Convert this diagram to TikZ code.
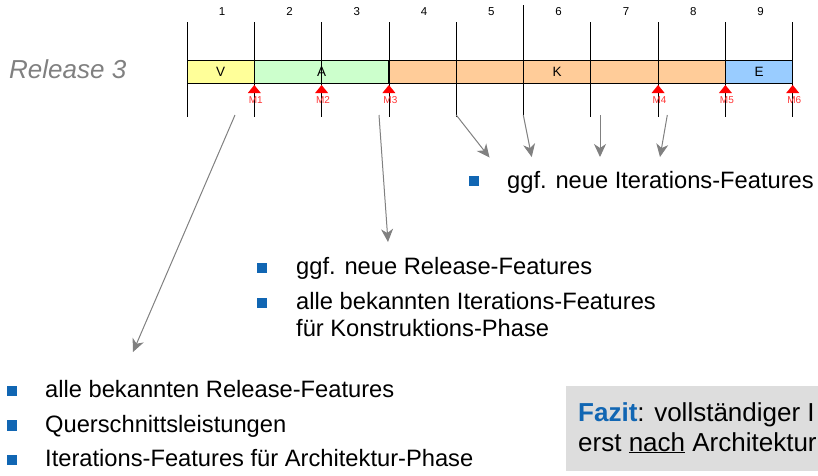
\documentclass[tikz,border=0pt]{standalone}
\usepackage{fontspec}
\setmainfont{Liberation Sans}
\usetikzlibrary{arrows.meta}
\definecolor{vfill}{HTML}{FFFF99}
\definecolor{afill}{HTML}{CCFFCC}
\definecolor{kfill}{HTML}{FFCC99}
\definecolor{efill}{HTML}{99CCFF}
\definecolor{bulletblue}{HTML}{1166B3}
\definecolor{arrowgrey}{HTML}{808080}
\definecolor{boxgrey}{HTML}{DDDDDD}
\definecolor{msred}{HTML}{FF0000}
\definecolor{mstext}{HTML}{FF3333}
\definecolor{relgrey}{HTML}{808080}
\begin{document}
\begin{tikzpicture}[x=1pt,y=-1pt,
  phasebox/.style={draw=black, line width=0.9pt},
  gridline/.style={draw=black, line width=0.8pt},
  itnum/.style={font=\fontsize{11.5}{13}\selectfont, anchor=base, inner sep=0pt},
  phaselabel/.style={font=\fontsize{13.5}{15}\selectfont, anchor=base, inner sep=0pt},
  msmark/.style={fill=msred},
  mslabel/.style={text=mstext, font=\fontsize{10}{11}\selectfont, anchor=base, inner sep=0pt},
  bullet/.style={fill=bulletblue, minimum size=10.5pt, inner sep=0pt},
  itemtext/.style={anchor=base west, inner sep=0pt, font=\fontsize{23.7}{27}\selectfont},
  fazittext/.style={anchor=base west, inner sep=0pt, font=\fontsize{26}{30}\selectfont},
  feedarrow/.style={draw=arrowgrey, line width=1pt, -{Stealth[length=13pt, width=12pt, inset=4pt]}}
]
\useasboundingbox (0,0) rectangle (818,475);
\clip (0,0) rectangle (818,475);

% release label
\node[anchor=base west, inner sep=0pt, text=relgrey, font=\fontsize{26}{30}\selectfont\itshape]
  (rel) at (9,78) {Release 3};

% phase bar
\filldraw[phasebox, fill=vfill] (187,60) rectangle (254.3,83);
\filldraw[phasebox, fill=afill] (254.3,60) rectangle (388.9,83);
\filldraw[phasebox, fill=kfill] (388.9,60) rectangle (725.4,83);
\filldraw[phasebox, fill=efill] (725.4,60) rectangle (792.7,83);
\node[phaselabel] (pV) at (220.6,76) {V};
\node[phaselabel] (pA) at (321.6,76) {A};
\node[phaselabel] (pK) at (557,76) {K};
\node[phaselabel] (pE) at (759,76) {E};

% iteration grid and numbers
\foreach \i in {0,...,9}{
  \pgfmathsetmacro{\gx}{187+67.3*\i}
  \ifnum\i=5
    \draw[gridline] (\gx,5) -- (\gx,115);
  \else
    \draw[gridline] (\gx,22) -- (\gx,117);
  \fi
}
\foreach \i in {1,...,9}{
  \pgfmathsetmacro{\nx}{187+67.3*\i-33.65+1.5}
  \node[itnum] (it\i) at (\nx,15) {\i};
}

% milestones
\foreach \k/\i in {1/1,2/2,3/3,4/7,5/8,6/9}{
  \pgfmathsetmacro{\mx}{187+67.3*\i}
  \fill[msmark] (\mx,85) -- (\mx+6.5,93) -- (\mx-6.5,93) -- cycle;
  \node[mslabel] (m\k) at (\mx+1.5,103) {M\k};
}

% arrow end points
\coordinate (s1) at (235,115);   \coordinate (t1) at (133,352);
\coordinate (s2) at (379,115);   \coordinate (t2) at (388,242);
\coordinate (s3) at (456.2,115); \coordinate (t3) at (489.5,157.5);
\coordinate (s4) at (523.3,115); \coordinate (t4) at (531.7,157);
\coordinate (s5) at (600,115);   \coordinate (t5) at (600,157);
\coordinate (s6) at (667.3,115); \coordinate (t6) at (660,157);
\foreach \j in {1,...,6}{ \draw[feedarrow] (s\j) -- (t\j); }

% iteration features
\node[bullet] (ib1) at (474,181) {};
\node[itemtext] (it1) at (507,188) {ggf. neue Iterations-Features};

% construction phase features
\node[bullet] (cb1) at (262,268) {};
\node[itemtext] (ct1) at (296,274.5) {ggf. neue Release-Features};
\node[bullet] (cb2) at (262,303) {};
\node[itemtext] (ct2) at (296,309.5) {alle bekannten Iterations-Features};
\node[itemtext] (ct3) at (296,336.5) {für Konstruktions-Phase};

% architecture phase features
\node[bullet] (ab1) at (12,391) {};
\node[itemtext] (at1) at (45,397.5) {alle bekannten Release-Features};
\node[bullet] (ab2) at (12,425.5) {};
\node[itemtext] (at2) at (45,432) {Querschnittsleistungen};
\node[bullet] (ab3) at (12,460) {};
\node[itemtext] (at3) at (45,466.5) {Iterations-Features für Architektur-Phase};

% conclusion box
\fill[boxgrey] (566,386) rectangle (830,471);
\node[fazittext] (fz1) at (578,421) {\textcolor{bulletblue}{\textbf{Fazit}}: vollständiger I};
\node[fazittext] (fz2) at (578,451) {erst \underline{nach} Architektur};
\end{tikzpicture}
\end{document}
